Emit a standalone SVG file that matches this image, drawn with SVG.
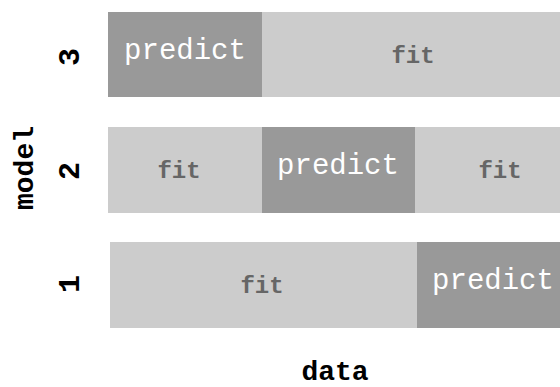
<svg xmlns="http://www.w3.org/2000/svg" width="560" height="387" viewBox="0 0 560 387">
<style>
.fit{fill:#cccccc}
.pred{fill:#999999}
.tfit{font-family:"Liberation Mono","Courier New",monospace;font-weight:bold;font-size:24px;fill:#666666;text-anchor:middle}
.tpred{font-family:"Liberation Mono","Courier New",monospace;font-size:29px;fill:#ffffff;text-anchor:middle}
.ax{font-family:"Liberation Mono","Courier New",monospace;font-weight:bold;font-size:28px;fill:#000000;text-anchor:middle}
.tick{font-family:"Liberation Mono","Courier New",monospace;font-weight:bold;font-size:30px;fill:#000000;text-anchor:middle}
</style>
<rect width="560" height="387" fill="#ffffff"/>
<g id="row3">
<rect class="pred" x="108" y="12" width="154" height="85"/>
<rect class="fit" x="262" y="12" width="153" height="85"/>
<rect class="fit" x="415" y="12" width="153" height="85"/>
<text class="tpred" x="185" y="59">predict</text>
<text class="tfit" x="413" y="63">fit</text>
</g>
<g id="row2">
<rect class="fit" x="108" y="127" width="154" height="86"/>
<rect class="pred" x="262" y="127" width="153" height="86"/>
<rect class="fit" x="415" y="127" width="153" height="86"/>
<text class="tfit" x="179" y="178">fit</text>
<text class="tpred" x="338" y="174">predict</text>
<text class="tfit" x="500" y="178">fit</text>
</g>
<g id="row1">
<rect class="fit" x="110" y="242" width="153" height="86"/>
<rect class="fit" x="263" y="242" width="154" height="86"/>
<rect class="pred" x="417" y="242" width="153" height="86"/>
<text class="tfit" x="262" y="293">fit</text>
<text class="tpred" x="493" y="289">predict</text>
</g>
<g id="axes">
<text class="tick" transform="translate(79,57) rotate(-90)">3</text>
<text class="tick" transform="translate(79,171) rotate(-90)">2</text>
<text class="tick" transform="translate(79,284) rotate(-90)">1</text>
<text class="ax" transform="translate(33,168) rotate(-90)">model</text>
<text class="ax" x="335" y="380">data</text>
</g>
</svg>
